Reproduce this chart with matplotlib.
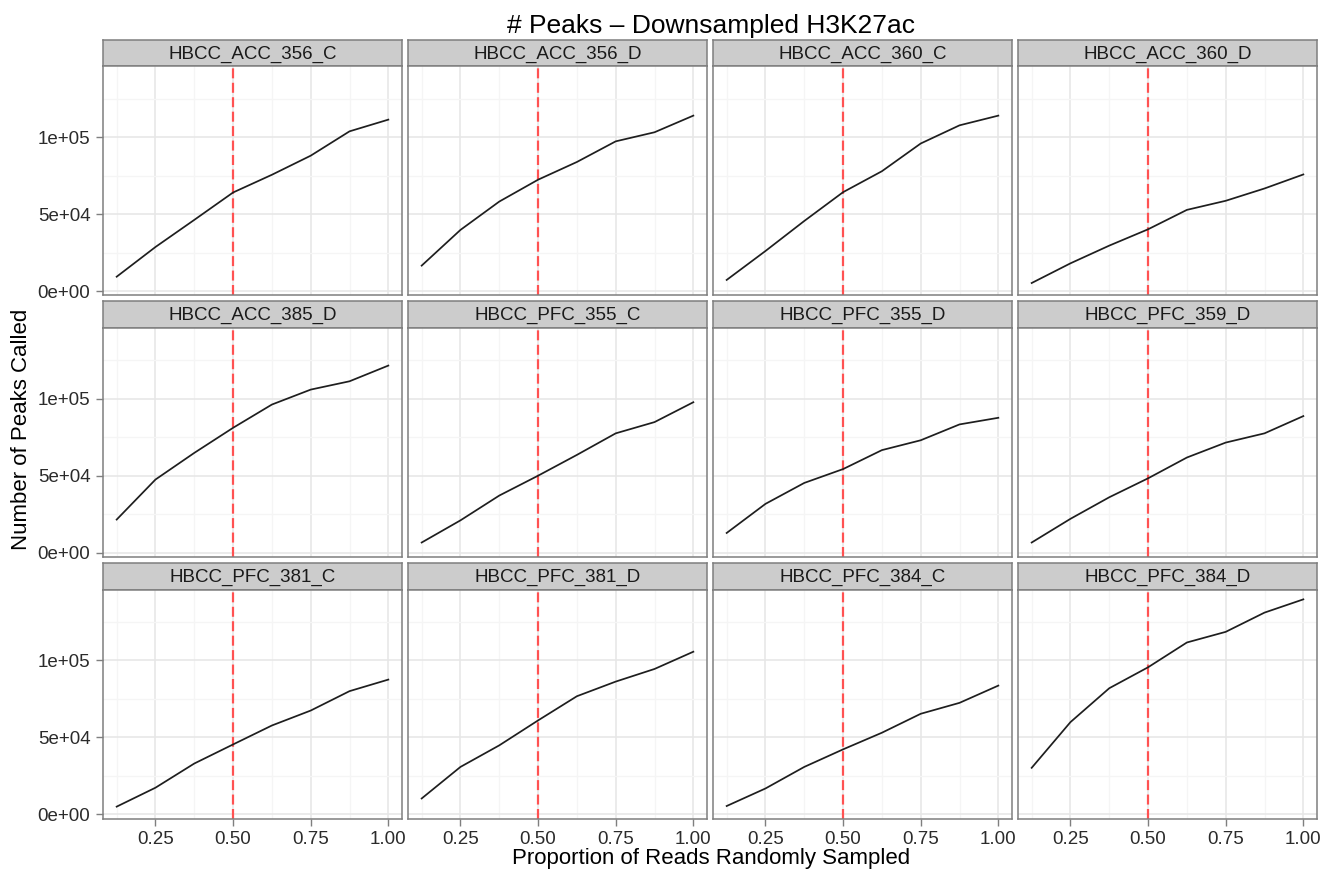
import matplotlib
matplotlib.use('Agg')
import matplotlib.pyplot as plt

plt.rcParams['font.family'] = ['Liberation Sans', 'DejaVu Sans']

proportion = [0.125, 0.25, 0.375, 0.5, 0.625, 0.75, 0.875, 1.0]

samples = ['HBCC_ACC_356_C', 'HBCC_ACC_356_D', 'HBCC_ACC_360_C', 'HBCC_ACC_360_D',
           'HBCC_ACC_385_D', 'HBCC_PFC_355_C', 'HBCC_PFC_355_D', 'HBCC_PFC_359_D',
           'HBCC_PFC_381_C', 'HBCC_PFC_381_D', 'HBCC_PFC_384_C', 'HBCC_PFC_384_D']

acc_356_c = [9300, 28600, 46200, 64000, 75500, 87900, 103700, 111300]
acc_356_d = [16500, 39700, 58100, 72300, 83800, 97200, 103100, 113900]
acc_360_c = [7200, 26000, 45500, 64200, 77800, 95800, 107600, 113900]
acc_360_d = [5200, 18000, 29500, 40100, 52700, 58600, 66600, 75700]
acc_385_d = [21400, 47400, 64700, 81000, 96100, 105800, 111200, 121400]
pfc_355_c = [6500, 20900, 37000, 49900, 63400, 77400, 84700, 97600]
pfc_355_d = [12700, 31600, 45200, 54200, 66500, 72900, 83200, 87500]
pfc_359_d = [6500, 21900, 35900, 48200, 61700, 71400, 77400, 88600]
pfc_381_c = [4800, 17100, 32800, 45200, 57500, 67200, 79800, 87300]
pfc_381_d = [10100, 30600, 44600, 60800, 76500, 86000, 94200, 105400]
pfc_384_c = [5200, 16600, 30600, 42000, 52800, 65100, 72200, 83400]
pfc_384_d = [30000, 59700, 81700, 95300, 111400, 118300, 130800, 139400]

peaks = [acc_356_c, acc_356_d, acc_360_c, acc_360_d,
         acc_385_d, pfc_355_c, pfc_355_d, pfc_359_d,
         pfc_381_c, pfc_381_d, pfc_384_c, pfc_384_d]

cutoff = 0.5
x_major = [0.25, 0.5, 0.75, 1.0]
x_labels = ['0.25', '0.50', '0.75', '1.00']
x_minor = [0.125, 0.375, 0.625, 0.875]
y_major = [0, 50000, 100000]
y_labels = ['0e+00', '5e+04', '1e+05']
y_minor = [25000, 75000, 125000]

W, H = 1324, 871
fig = plt.figure(figsize=(W / 100, H / 100), dpi=100)

border = '#7f7f7f'
lefts = [103, 408, 713, 1018]
panel_w = 299
strip_tops = [40, 301.5, 563]
strip_h = 26.5
panel_h = 229


def rect(x0, y0, w, h):  # pixel box (top-left origin) -> figure fraction
    return [x0 / W, 1 - (y0 + h) / H, w / W, h / H]


for i in range(len(samples)):
    r, c = i // 4, i % 4
    x0 = lefts[c]
    st = strip_tops[r]

    # strip
    sax = fig.add_axes(rect(x0, st, panel_w, strip_h))
    sax.set_facecolor('#cccccc')
    sax.set_xticks([])
    sax.set_yticks([])
    for s in sax.spines.values():
        s.set_color(border)
        s.set_linewidth(1.1)
    sax.text(0.5, 0.47, samples[i], ha='center', va='center', fontsize=13.5,
             color='#1a1a1a', transform=sax.transAxes)

    # panel
    ax = fig.add_axes(rect(x0, st + strip_h, panel_w, panel_h))
    ax.set_xlim(0.081, 1.044)
    ax.set_ylim(-2900, 145800)
    ax.set_xticks(x_major)
    ax.set_xticks(x_minor, minor=True)
    ax.set_yticks(y_major)
    ax.set_yticks(y_minor, minor=True)
    ax.grid(which='major', color='#e6e6e6', linewidth=1.1)
    ax.grid(which='minor', color='#f5f5f5', linewidth=0.9)
    ax.set_axisbelow(True)
    for s in ax.spines.values():
        s.set_color(border)
        s.set_linewidth(1.1)
    ax.tick_params(which='minor', length=0)
    ax.tick_params(which='major', length=5, color=border, width=1.0,
                   labelsize=13.5, labelcolor='#2b2b2b', pad=4)

    if r == 2:
        ax.set_xticklabels(x_labels)
    else:
        ax.tick_params(axis='x', which='major', length=0, labelbottom=False)
    if c == 0:
        ax.set_yticklabels(y_labels)
    else:
        ax.tick_params(axis='y', which='major', length=0, labelleft=False)

    ax.axvline(cutoff, color='#ff5252', linewidth=1.6, linestyle=(0, (4.5, 2)), zorder=2)
    ax.plot(proportion, peaks[i], color='#1e1e1e', linewidth=1.25, zorder=3)

fig.text(711 / W, 1 - 26 / H, '# Peaks \u2013 Downsampled H3K27ac', ha='center', va='center',
         fontsize=19)
fig.text(711 / W, 1 - 858 / H, 'Proportion of Reads Randomly Sampled', ha='center',
         va='center', fontsize=16)
fig.text(22 / W, 1 - 429 / H, 'Number of Peaks Called', ha='center', va='center',
         rotation=90, fontsize=16)

fig.savefig('out.png', dpi=100, facecolor='white')
